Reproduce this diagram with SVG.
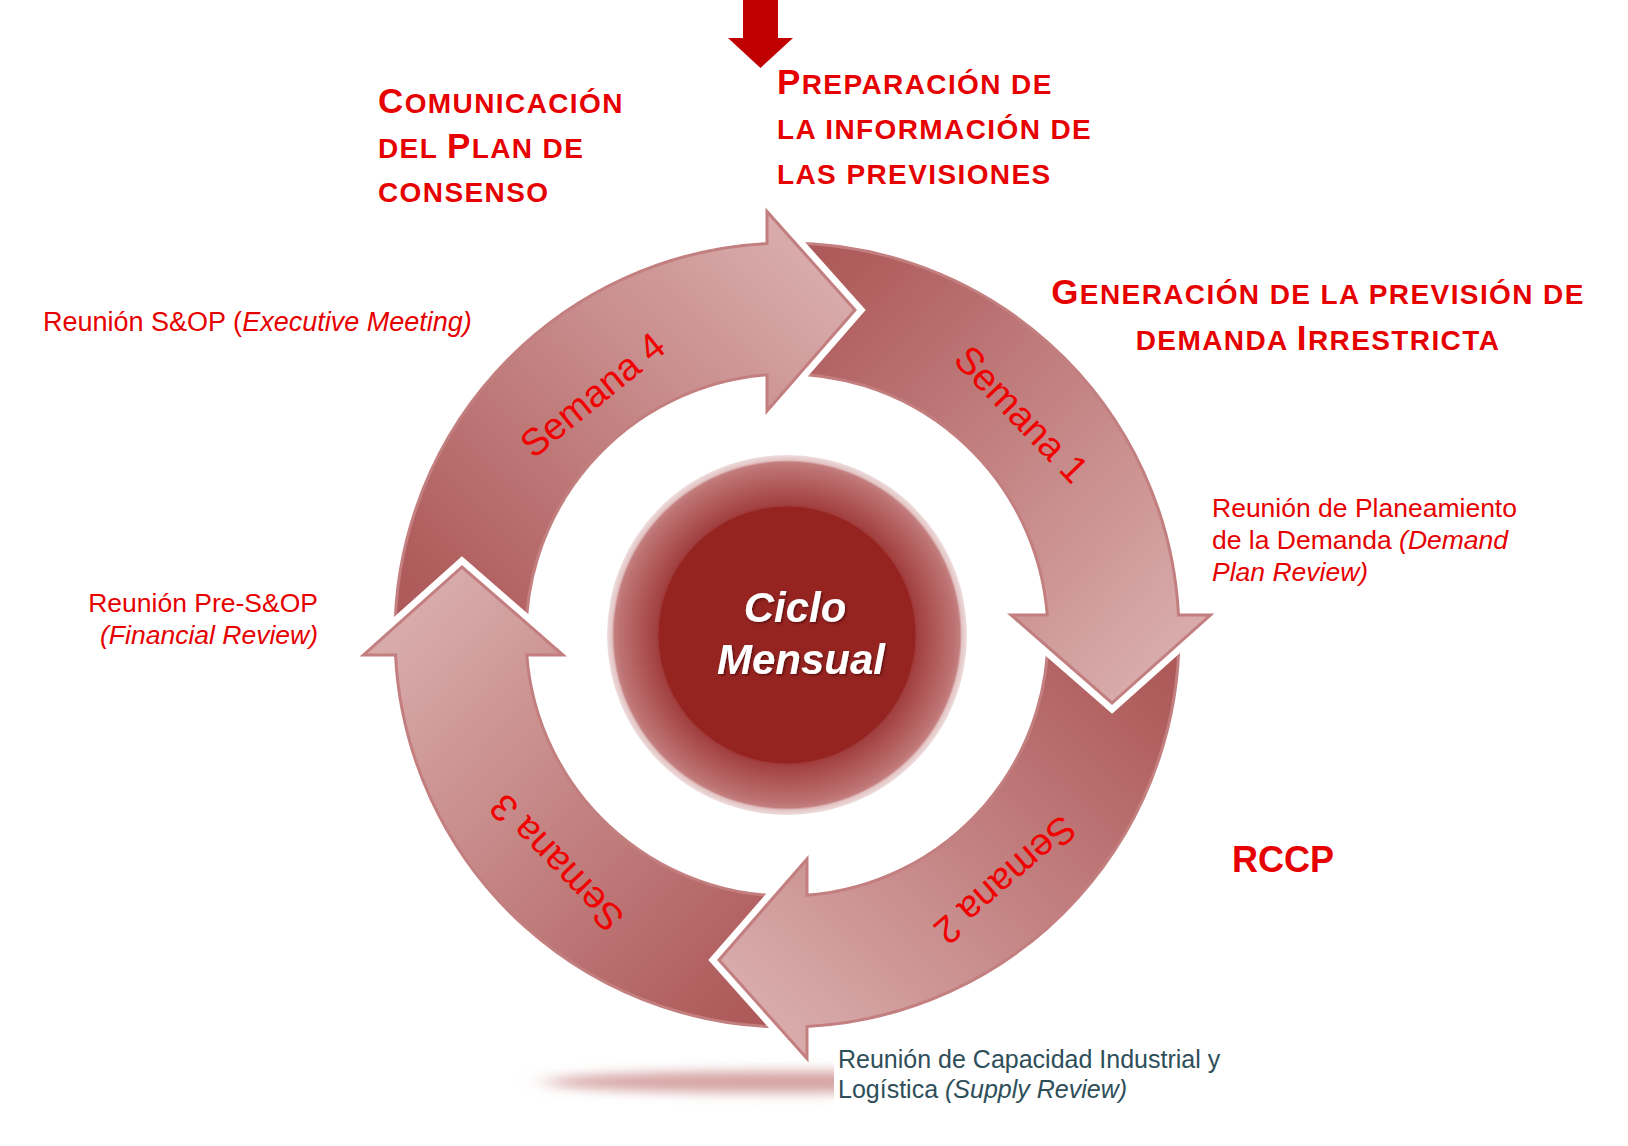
<svg xmlns="http://www.w3.org/2000/svg" width="1628" height="1146" viewBox="0 0 1628 1146">
<style>
  .t{font-family:"Liberation Sans",Arial,sans-serif;font-weight:bold;fill:#E60000;letter-spacing:1.4px}
  .big{font-size:35px}
  .sm{font-size:28px}
  .lab{font-family:"Liberation Sans",Arial,sans-serif;font-size:26.5px;fill:#E60000}
  .lab2{font-family:"Liberation Sans",Arial,sans-serif;font-size:25px;fill:#2E4E5A}
  .it{font-style:italic}
  .sem{font-family:"Liberation Sans",Arial,sans-serif;font-size:38px;fill:#F00000;text-anchor:middle}
  .arrow{fill:url(#gArrow);stroke:#C37F7F;stroke-width:3;stroke-linejoin:miter}
  .ciclo{font-family:"Liberation Sans",Arial,sans-serif;font-size:42px;font-weight:bold;font-style:italic;fill:#FFFFFF;text-anchor:middle}
</style>
<defs>
  <linearGradient id="gArrow" gradientUnits="userSpaceOnUse" x1="-330" y1="80" x2="60" y2="-330">
    <stop offset="0" stop-color="#AC5757"/>
    <stop offset="0.15" stop-color="#B05D5D"/>
    <stop offset="1" stop-color="#D8AAAA"/>
  </linearGradient>
  <mask id="tailMask" maskUnits="userSpaceOnUse" x="-900" y="-900" width="1800" height="1800">
    <rect x="-900" y="-900" width="1800" height="1800" fill="#FFFFFF"/>
    <polygon points="-423.5,20 -325,-68 -224,20" fill="#000000" stroke="#000000" stroke-width="16" stroke-linejoin="miter"/>
  </mask>
  <radialGradient id="halo" cx="0.5" cy="0.5" r="0.5">
    <stop offset="0.70" stop-color="#9A3030"/>
    <stop offset="0.73" stop-color="#A34141"/>
    <stop offset="0.82" stop-color="#AF5757"/>
    <stop offset="0.93" stop-color="#BD7272"/>
    <stop offset="0.96" stop-color="#C47E7E"/>
    <stop offset="0.972" stop-color="#E3C4C4"/>
    <stop offset="1" stop-color="#EEDCDC"/>
  </radialGradient>
  <filter id="blur" x="-50%" y="-200%" width="200%" height="500%">
    <feGaussianBlur stdDeviation="14 6"/>
  </filter>
  <filter id="tshadow" x="-20%" y="-20%" width="140%" height="140%">
    <feDropShadow dx="1.5" dy="1.5" stdDeviation="1.2" flood-color="#400000" flood-opacity="0.6"/>
  </filter>
</defs>

<rect x="0" y="0" width="1628" height="1146" fill="#FFFFFF"/>

<g id="shadow">
  <ellipse cx="790" cy="1082" rx="245" ry="11" fill="#D6A4A4" filter="url(#blur)"/>
</g>

<g id="connectors">
  <polygon points="743,0 778,0 778,38 793,38 760.5,68 728,38 743,38" fill="#C00000"/>
</g>

<g id="cycle" transform="translate(787,635)">
  <g id="arrow-semana4">
    <path class="arrow" d="M -391.49 20 A 392 392 0 0 1 -20 -391.49 L -20 -423.5 L 68 -325 L -20 -224 L -20 -260.23 A 261 261 0 0 0 -260.23 20 Z" mask="url(#tailMask)"/>
    <g transform="rotate(-39)"><text class="sem" x="0" y="-296">Semana 4</text></g>
  </g>
  <g id="arrow-semana1">
    <path class="arrow" transform="rotate(90)" d="M -391.49 20 A 392 392 0 0 1 -20 -391.49 L -20 -423.5 L 68 -325 L -20 -224 L -20 -260.23 A 261 261 0 0 0 -260.23 20 Z" mask="url(#tailMask)"/>
    <g transform="rotate(46)"><text class="sem" x="4" y="-309">Semana 1</text></g>
  </g>
  <g id="arrow-semana2">
    <path class="arrow" transform="rotate(180)" d="M -391.49 20 A 392 392 0 0 1 -20 -391.49 L -20 -423.5 L 68 -325 L -20 -224 L -20 -260.23 A 261 261 0 0 0 -260.23 20 Z" mask="url(#tailMask)"/>
    <g transform="rotate(139)"><text class="sem" x="-4" y="-315">Semana 2</text></g>
  </g>
  <g id="arrow-semana3">
    <path class="arrow" transform="rotate(270)" d="M -391.49 20 A 392 392 0 0 1 -20 -391.49 L -20 -423.5 L 68 -325 L -20 -224 L -20 -260.23 A 261 261 0 0 0 -260.23 20 Z" mask="url(#tailMask)"/>
    <g transform="rotate(226)"><text class="sem" x="-4" y="-311">Semana 3</text></g>
  </g>
</g>

<g id="ciclo-mensual">
  <circle cx="787" cy="635" r="180" fill="url(#halo)"/>
  <circle cx="787" cy="635" r="128.5" fill="#952421"/>
  <g filter="url(#tshadow)">
    <text class="ciclo" x="795" y="622">Ciclo</text>
    <text class="ciclo" x="801" y="674">Mensual</text>
  </g>
</g>

<g id="title-comunicacion">
  <text class="t" x="378" y="113"><tspan class="big">C</tspan><tspan class="sm">OMUNICACIÓN</tspan></text>
  <text class="t" x="378" y="158"><tspan class="sm">DEL </tspan><tspan class="big">P</tspan><tspan class="sm">LAN DE</tspan></text>
  <text class="t" x="378" y="202"><tspan class="sm">CONSENSO</tspan></text>
</g>
<g id="title-preparacion">
  <text class="t" x="777" y="94"><tspan class="big">P</tspan><tspan class="sm">REPARACIÓN DE</tspan></text>
  <text class="t" x="777" y="139"><tspan class="sm">LA INFORMACIÓN DE</tspan></text>
  <text class="t" x="777" y="184"><tspan class="sm">LAS PREVISIONES</tspan></text>
</g>
<g id="title-generacion">
  <text class="t" x="1318" y="304" text-anchor="middle"><tspan class="big">G</tspan><tspan class="sm">ENERACIÓN DE LA PREVISIÓN DE</tspan></text>
  <text class="t" x="1318" y="350" text-anchor="middle"><tspan class="sm">DEMANDA </tspan><tspan class="big">I</tspan><tspan class="sm">RRESTRICTA</tspan></text>
</g>
<g id="title-rccp">
  <text class="t" x="1232" y="872" style="font-size:36px;letter-spacing:0">RCCP</text>
</g>

<g id="label-executive">
  <text class="lab" x="43" y="331" style="font-size:27px">Reunión S&amp;OP (<tspan class="it">Executive Meeting)</tspan></text>
</g>
<g id="label-financial">
  <text class="lab" x="318" y="612" text-anchor="end">Reunión Pre-S&amp;OP</text>
  <text class="lab it" x="318" y="644" text-anchor="end">(Financial Review)</text>
</g>
<g id="label-demand">
  <text class="lab" x="1212" y="517">Reunión de Planeamiento</text>
  <text class="lab" x="1212" y="549">de la Demanda <tspan class="it">(Demand</tspan></text>
  <text class="lab it" x="1212" y="581">Plan Review)</text>
</g>
<g id="label-supply">
  <rect x="834" y="1046" width="390" height="68" fill="#FFFFFF"/>
  <text class="lab2" x="838" y="1068">Reunión de Capacidad Industrial y</text>
  <text class="lab2" x="838" y="1098">Logística <tspan class="it">(Supply Review)</tspan></text>
</g>
</svg>
